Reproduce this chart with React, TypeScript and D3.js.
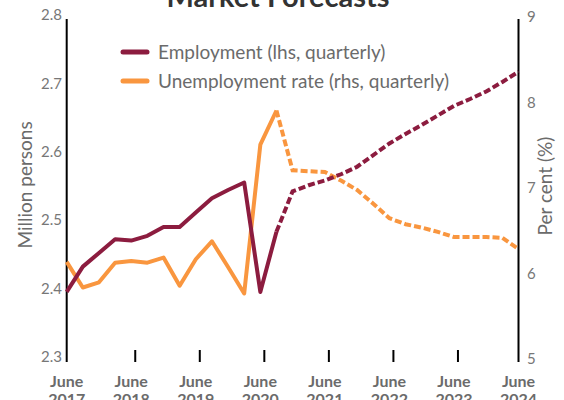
import React from "react";
import * as d3 from "d3";

// quarterly, June 2017 .. June 2024
const quarters = d3.range(29);
const yearLabels = ["2017", "2018", "2019", "2020", "2021", "2022", "2023", "2024"];
const lastActual = 13; // Sep 2020

const employment = [
  2.401, 2.438, 2.458, 2.478, 2.476, 2.483, 2.496, 2.496, 2.517, 2.538, 2.55,
  2.561, 2.401, 2.489, 2.548, 2.557, 2.564, 2.573, 2.584, 2.601, 2.618, 2.632,
  2.645, 2.659, 2.673, 2.683, 2.694, 2.708, 2.723,
];
const unemployment = [
  6.16, 5.86, 5.92, 6.15, 6.17, 6.15, 6.21, 5.88, 6.19, 6.4, 6.1, 5.79, 7.53,
  7.93, 7.23, 7.22, 7.21, 7.11, 7.0, 6.84, 6.67, 6.6, 6.56, 6.51, 6.45, 6.45,
  6.45, 6.44, 6.31,
];
const leftTicks = [2.3, 2.4, 2.5, 2.6, 2.7, 2.8];
const rightTicks = [5, 6, 7, 8, 9];

const W = 564;
const H = 400;
const MAROON = "#8c1c3f";
const ORANGE = "#f9963f";
const FONT = "Lato, 'Open Sans', sans-serif";
const GREY = "#6b6b6b";

export default function App() {
  const x = d3.scaleLinear().domain([0, quarters.length - 1]).range([66.7, 518.5]);
  const yL = d3.scaleLinear().domain([2.3, 2.8]).range([361, 19]);
  const yR = d3.scaleLinear().domain([5, 9]).range([361, 19]);

  const path = (vals: number[], y: d3.ScaleLinear<number, number>, start: number) =>
    d3
      .line<number>()
      .x((_, i) => x(i + start))
      .y((d) => y(d))(vals) ?? "";

  const emp = {
    actual: path(employment.slice(0, lastActual + 1), yL, 0),
    fc: path(employment.slice(lastActual), yL, lastActual),
  };
  const un = {
    actual: path(unemployment.slice(0, lastActual + 1), yR, 0),
    fc: path(unemployment.slice(lastActual), yR, lastActual),
  };

  return (
    <svg
      width={W}
      height={H}
      style={{ position: "absolute", left: 0, top: 0, background: "#fff" }}
      fontFamily={FONT}
    >
      <text x={278} y={7} textAnchor="middle" fontSize={29} fontWeight="bold" fill="#333">
        Market Forecasts
      </text>

      {/* axes */}
      <line x1={x(0)} x2={x(0)} y1={yL(2.8)} y2={yL(2.3) + 1} stroke="#000" strokeWidth={2} />
      <line x1={x(28)} x2={x(28)} y1={yR(9)} y2={yR(5) + 1} stroke="#000" strokeWidth={2} />
      {leftTicks.map((t) => (
        <text key={t} x={62} y={yL(t) - 4} dy="0.35em" textAnchor="end" fontSize={15} fill="#777">
          {t.toFixed(1)}
        </text>
      ))}
      {rightTicks.map((t) => (
        <text key={t} x={527} y={yR(t) - 2} dy="0.35em" fontSize={15} fill="#777">
          {t}
        </text>
      ))}
      {yearLabels.map((yr, k) => (
        <g key={yr}>
          {k > 0 && k < 7 && (
            <line
              x1={x(k * 4) + 4}
              x2={x(k * 4) + 4}
              y1={350}
              y2={362}
              stroke="#000"
              strokeWidth={2}
            />
          )}
          <text x={x(k * 4)} textAnchor="middle" fontSize={16} fontWeight="bold" fill={GREY}>
            <tspan x={x(k * 4)} y={387}>June</tspan>
            <tspan x={x(k * 4)} y={405}>{yr}</tspan>
          </text>
        </g>
      ))}

      <text
        transform={`translate(32,185) rotate(-90)`}
        textAnchor="middle"
        fontSize={19}
        fill={GREY}
      >
        Million persons
      </text>
      <text
        transform={`translate(552,186) rotate(-90)`}
        textAnchor="middle"
        fontSize={19}
        fill={GREY}
      >
        Per cent (%)
      </text>

      {/* series */}
      <path d={un.actual} fill="none" stroke={ORANGE} strokeWidth={4} strokeLinejoin="round" />
      <path d={un.fc} fill="none" stroke={ORANGE} strokeWidth={4} strokeDasharray="7,3" />
      <path d={emp.actual} fill="none" stroke={MAROON} strokeWidth={4} strokeLinejoin="round" />
      <path d={emp.fc} fill="none" stroke={MAROON} strokeWidth={4} strokeDasharray="7,3" />

      {/* legend */}
      {[
        { c: MAROON, t: "Employment (lhs, quarterly)", y: 52 },
        { c: ORANGE, t: "Unemployment rate (rhs, quarterly)", y: 81 },
      ].map((d) => (
        <g key={d.t}>
          <line x1={123} x2={147} y1={d.y} y2={d.y} stroke={d.c} strokeWidth={5} strokeLinecap="round" />
          <text x={158} y={d.y} dy="0.35em" fontSize={19} fill={GREY}>
            {d.t}
          </text>
        </g>
      ))}
    </svg>
  );
}
